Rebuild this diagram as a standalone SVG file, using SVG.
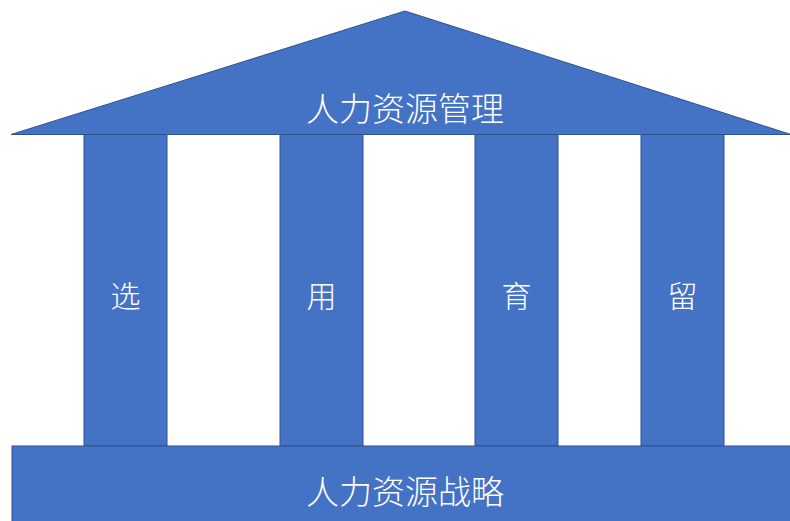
<svg xmlns="http://www.w3.org/2000/svg" width="790" height="521" viewBox="0 0 790 521">
<style>
.s{fill:#4472C4;stroke:#2F528F;stroke-width:1}
.t{fill:#ffffff;font-family:"Noto Sans CJK SC","Noto Sans",sans-serif;font-weight:300;font-size:33px;text-anchor:middle;dominant-baseline:central}
.p{font-size:30px}
</style>
<rect width="790" height="521" fill="#ffffff"/>
<g id="pillar1"><rect class="s" x="84" y="134" width="83" height="312"/><text class="t p" x="125.5" y="294">选</text></g>
<g id="pillar2"><rect class="s" x="280" y="134" width="83" height="312"/><text class="t p" x="321.5" y="294">用</text></g>
<g id="pillar3"><rect class="s" x="475" y="134" width="83" height="312"/><text class="t p" x="516.5" y="294">育</text></g>
<g id="pillar4"><rect class="s" x="641" y="134" width="83" height="312"/><text class="t p" x="682.5" y="294">留</text></g>
<g id="roof"><polygon class="s" points="11,134.5 405,11 791,134.5"/><text class="t" x="405" y="107">人力资源管理</text></g>
<g id="base"><rect class="s" x="12" y="446" width="780" height="80"/><text class="t" x="405" y="490">人力资源战略</text></g>
<g id="connectors"></g>
</svg>
